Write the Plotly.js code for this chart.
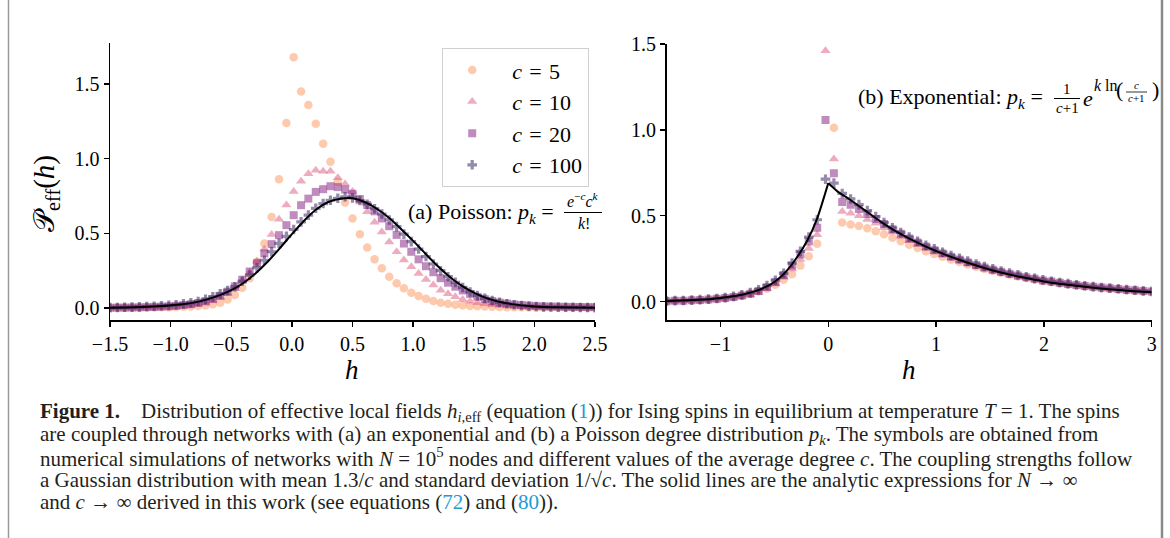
<!DOCTYPE html>
<html><head><meta charset="utf-8">
<script src="https://cdn.plot.ly/plotly-3.0.1.min.js"></script>
<style>html,body{margin:0;padding:0;background:#fff;}#chart{width:1170px;height:538px;}</style>
</head><body><div id="chart"></div>
<script>
// ---------- Panel (a): Poisson ----------
const hA = [-1.5,-1.439,-1.379,-1.318,-1.258,-1.197,-1.136,-1.076,-1.015,-0.955,
 -0.894,-0.833,-0.773,-0.712,-0.652,-0.591,-0.530,-0.470,-0.409,-0.348,
 -0.288,-0.227,-0.167,-0.106,-0.045,0.015,0.076,0.136,0.197,0.258,
 0.318,0.379,0.439,0.500,0.561,0.621,0.682,0.742,0.803,0.864,
 0.924,0.985,1.045,1.106,1.167,1.227,1.288,1.348,1.409,1.470,
 1.530,1.591,1.652,1.712,1.773,1.833,1.894,1.955,2.015,2.076,
 2.136,2.197,2.258,2.318,2.379,2.439,2.500];
const aC5 = [0.002,0.002,0.002,0.003,0.003,0.004,0.004,0.005,0.006,0.007,
 0.009,0.011,0.014,0.018,0.025,0.035,0.058,0.087,0.136,0.199,
 0.31,0.433,0.61,0.863,1.24,1.68,1.45,1.36,1.235,1.10,
 0.98,0.845,0.707,0.60,0.495,0.406,0.326,0.266,0.21,0.166,
 0.132,0.102,0.08,0.062,0.047,0.036,0.029,0.022,0.018,0.014,
 0.012,0.01,0.008,0.007,0.006,0.005,0.005,0.004,0.004,0.003,
 0.003,0.003,0.002,0.002,0.002,0.002,0.002];
const aC10 = [0.002,0.002,0.003,0.003,0.004,0.005,0.006,0.007,0.009,0.012,
 0.016,0.02,0.028,0.038,0.052,0.07,0.095,0.13,0.18,0.24,
 0.314,0.393,0.493,0.595,0.69,0.78,0.85,0.90,0.923,0.916,
 0.916,0.872,0.83,0.78,0.71,0.645,0.575,0.51,0.443,0.377,
 0.321,0.276,0.232,0.192,0.154,0.12,0.095,0.075,0.058,0.045,
 0.035,0.028,0.022,0.018,0.015,0.012,0.01,0.009,0.008,0.007,
 0.006,0.005,0.005,0.004,0.004,0.004,0.003];
const aC20 = [0.002,0.003,0.003,0.004,0.005,0.006,0.008,0.01,0.012,0.015,
 0.02,0.026,0.034,0.045,0.06,0.082,0.11,0.145,0.19,0.245,
 0.30,0.366,0.428,0.488,0.555,0.622,0.689,0.733,0.778,0.796,
 0.816,0.81,0.794,0.765,0.73,0.69,0.648,0.60,0.548,0.49,
 0.432,0.377,0.326,0.28,0.24,0.2,0.17,0.143,0.118,0.095,
 0.075,0.06,0.047,0.037,0.03,0.024,0.02,0.016,0.013,0.011,
 0.01,0.009,0.008,0.007,0.007,0.006,0.006];
const aC100 = [0.003,0.004,0.005,0.006,0.008,0.01,0.012,0.015,0.018,0.022,
 0.028,0.035,0.044,0.058,0.075,0.095,0.118,0.143,0.18,0.22,
 0.27,0.32,0.377,0.433,0.48,0.526,0.577,0.622,0.668,0.70,
 0.722,0.735,0.745,0.738,0.72,0.695,0.665,0.63,0.59,0.545,
 0.495,0.445,0.395,0.345,0.295,0.25,0.21,0.172,0.138,0.108,
 0.084,0.065,0.05,0.038,0.029,0.022,0.017,0.013,0.01,0.008,
 0.007,0.006,0.005,0.005,0.004,0.004,0.003];
const hLineA = [-1.5,-1.3,-1.1,-0.9,-0.8,-0.7,-0.6,-0.5,-0.4,-0.3,-0.2,-0.1,0,0.1,0.2,0.3,0.4,0.5,0.6,0.7,0.8,0.9,1.0,1.1,1.2,1.3,1.4,1.5,1.6,1.7,1.8,2.0,2.2,2.5];
const lineA = [0.002,0.005,0.012,0.026,0.038,0.058,0.085,0.12,0.168,0.232,0.31,0.40,0.495,0.585,0.66,0.71,0.732,0.735,0.71,0.665,0.605,0.53,0.45,0.365,0.283,0.21,0.15,0.103,0.068,0.044,0.028,0.011,0.005,0.002];

// ---------- Panel (b): Exponential ----------
const hB = [-1.5,-1.422,-1.345,-1.267,-1.190,-1.112,-1.034,-0.957,-0.879,-0.802,
 -0.724,-0.647,-0.569,-0.491,-0.414,-0.336,-0.259,-0.181,-0.103,-0.026,
 0.052,0.129,0.207,0.284,0.362,0.440,0.517,0.595,0.672,0.750,
 0.828,0.905,0.983,1.060,1.138,1.216,1.293,1.371,1.448,1.526,
 1.603,1.681,1.759,1.836,1.914,1.991,2.069,2.147,2.224,2.302,
 2.379,2.457,2.534,2.612,2.690,2.767,2.845,2.922,3.0];
const bC5 = [0.004,0.005,0.006,0.008,0.01,0.013,0.017,0.022,0.028,0.036,
 0.047,0.06,0.075,0.099,0.128,0.16,0.21,0.264,0.337,2.6,
 1.013,0.461,0.45,0.44,0.428,0.41,0.392,0.372,0.352,0.332,
 0.312,0.294,0.277,0.261,0.246,0.231,0.217,0.204,0.191,0.179,
 0.168,0.157,0.147,0.138,0.129,0.121,0.114,0.107,0.1,0.094,
 0.089,0.084,0.079,0.075,0.071,0.067,0.063,0.06,0.057];
const bC10 = [0.003,0.004,0.005,0.007,0.009,0.011,0.014,0.018,0.024,0.031,
 0.041,0.055,0.075,0.103,0.142,0.19,0.245,0.31,0.39,1.46,
 0.83,0.525,0.515,0.50,0.478,0.456,0.43,0.405,0.38,0.355,
 0.333,0.312,0.292,0.274,0.256,0.239,0.223,0.208,0.194,0.182,
 0.17,0.159,0.148,0.139,0.13,0.122,0.115,0.108,0.102,0.096,
 0.09,0.085,0.081,0.077,0.072,0.068,0.065,0.061,0.058];
const bC20 = [0.003,0.005,0.006,0.008,0.01,0.013,0.017,0.021,0.028,0.036,
 0.047,0.063,0.085,0.115,0.155,0.21,0.275,0.35,0.43,1.058,
 0.748,0.58,0.565,0.54,0.51,0.482,0.452,0.422,0.395,0.368,
 0.344,0.321,0.3,0.281,0.262,0.245,0.229,0.213,0.199,0.186,
 0.174,0.162,0.152,0.142,0.133,0.124,0.117,0.11,0.103,0.097,
 0.092,0.087,0.082,0.078,0.074,0.07,0.066,0.062,0.059];
const bC100 = [0.004,0.006,0.007,0.009,0.012,0.015,0.019,0.024,0.031,0.04,
 0.053,0.07,0.094,0.125,0.165,0.225,0.293,0.376,0.477,0.713,
 0.69,0.63,0.598,0.565,0.53,0.496,0.461,0.43,0.403,0.376,
 0.352,0.328,0.308,0.288,0.269,0.252,0.236,0.219,0.205,0.191,
 0.178,0.167,0.156,0.145,0.136,0.127,0.119,0.112,0.105,0.099,
 0.093,0.088,0.083,0.079,0.075,0.071,0.067,0.063,0.06];
const hLineB = [-1.5,-1.3,-1.1,-1.0,-0.9,-0.8,-0.7,-0.6,-0.5,-0.4,-0.3,-0.2,-0.1,0,0.1,0.2,0.3,0.4,0.5,0.6,0.7,0.8,0.9,1.0,1.1,1.2,1.4,1.6,1.8,2.0,2.2,2.4,2.6,2.8,3.0];
const lineB = [0.004,0.008,0.015,0.021,0.03,0.041,0.057,0.08,0.115,0.17,0.25,0.35,0.49,0.69,0.635,0.595,0.55,0.505,0.46,0.42,0.385,0.352,0.322,0.295,0.27,0.247,0.205,0.17,0.142,0.118,0.1,0.085,0.073,0.063,0.055];

const seriesNames = ['\u2002<i>c</i>\u2004=\u20045','\u2002<i>c</i>\u2004=\u200410','\u2002<i>c</i>\u2004=\u200420','\u2002<i>c</i>\u2004=\u2004100'];
const xTicksA = [-1.5,-1.0,-0.5,0.0,0.5,1.0,1.5,2.0,2.5];
const xTicksB = [-1,0,1,2,3];
const yTicks = [0.0,0.5,1.0,1.5];

// ---------- styles ----------
const styles = [
  {symbol:'circle', color:'rgba(253,166,120,0.6)', size:8.5},
  {symbol:'triangle-up', color:'rgba(222,90,128,0.5)', size:9},
  {symbol:'square', color:'rgba(140,45,135,0.55)', size:8},
  {symbol:'cross', color:'rgba(60,42,100,0.55)', size:8}
];
const W = 1170, H = 538;
const px = x => x / W, py = y => 1 - y / H;
const FONT = 'Liberation Serif, Times New Roman, serif';

const dataA = [aC5, aC10, aC20, aC100];
const dataB = [bC5, bC10, bC20, bC100];
const traces = [];
dataA.forEach((ys, i) => traces.push({
  x: hA, y: ys, type: 'scatter', mode: 'markers', name: seriesNames[i],
  marker: {symbol: styles[i].symbol, color: styles[i].color, size: styles[i].size, line: {width: 0}},
  xaxis: 'x', yaxis: 'y', showlegend: true, legendgroup: 'g' + i
}));
traces.push({x: hLineA, y: lineA, type: 'scatter', mode: 'lines', line: {color: '#000', width: 2, shape: 'spline', smoothing: 0.6}, xaxis: 'x', yaxis: 'y', showlegend: false, hoverinfo: 'skip'});
dataB.forEach((ys, i) => traces.push({
  x: hB, y: ys, type: 'scatter', mode: 'markers', name: seriesNames[i],
  marker: {symbol: styles[i].symbol, color: styles[i].color, size: styles[i].size, line: {width: 0}},
  xaxis: 'x2', yaxis: 'y2', showlegend: false, legendgroup: 'g' + i
}));
const zeroIdx = hLineB.indexOf(0);
traces.push({x: hLineB.slice(0, zeroIdx + 1), y: lineB.slice(0, zeroIdx + 1), type: 'scatter', mode: 'lines', line: {color: '#000', width: 2, shape: 'spline', smoothing: 0.5}, xaxis: 'x2', yaxis: 'y2', showlegend: false, hoverinfo: 'skip'});
traces.push({x: hLineB.slice(zeroIdx), y: lineB.slice(zeroIdx), type: 'scatter', mode: 'lines', line: {color: '#000', width: 2, shape: 'spline', smoothing: 0.5}, xaxis: 'x2', yaxis: 'y2', showlegend: false, hoverinfo: 'skip'});

const axisCommon = {
  showgrid: false, zeroline: false, showline: true, linecolor: '#000', linewidth: 1.5,
  ticks: 'outside', ticklen: 5, tickwidth: 1.3, tickcolor: '#000',
  tickfont: {family: FONT, size: 20, color: '#000'}, mirror: false
};

const blue = '#1e9ad6';
const capFont = {family: FONT, size: 21, color: '#231f20'};
const caption = [
  '<b>Figure 1.</b>\u2003Distribution of effective local fields <i>h</i><sub><i>i</i>,eff</sub> (equation (<span style="color:' + blue + '">1</span>)) for Ising spins in equilibrium at temperature <i>T</i> = 1. The spins',
  'are coupled through networks with (a) an exponential and (b) a Poisson degree distribution <i>p<sub>k</sub></i>. The symbols are obtained from',
  'numerical simulations of networks with <i>N</i> = 10<sup>5</sup> nodes and different values of the average degree <i>c</i>. The coupling strengths follow',
  'a Gaussian distribution with mean 1.3/<i>c</i> and standard deviation 1/√<i>c</i>. The solid lines are the analytic expressions for <i>N</i> → ∞',
  'and <i>c</i> → ∞ derived in this work (see equations (<span style="color:' + blue + '">72</span>) and (<span style="color:' + blue + '">80</span>)).'
];
const capY = [412, 435, 457, 480, 502];

const ann = [];
const addText = (text, x, y, size, xanchor, extra) => ann.push(Object.assign({
  text: text, x: px(x), y: py(y), xref: 'paper', yref: 'paper', showarrow: false,
  xanchor: xanchor || 'center', yanchor: 'middle', font: {family: FONT, size: size, color: '#000'}
}, extra || {}));

caption.forEach((t, i) => addText(t, 38, capY[i], 21, 'left', {font: capFont}));
// axis titles
addText('<i>h</i>', 352, 370, 27);
addText('<i>h</i>', 909, 370, 27);
addText('𝒫<sub>eff</sub>(<i>h</i>)', 46, 194, 29, 'center', {textangle: -90});
// (a) formula
addText('(a) Poisson: <i>p<sub>k</sub></i> = ', 561, 213, 22, 'right');
addText('<i>e</i><sup>−<i>c</i></sup><i>c</i><sup><i>k</i></sup>', 583, 200, 16);
addText('<i>k</i>!', 584, 223, 16);
// (b) formula
addText('(b) Exponential: <i>p<sub>k</sub></i> = ', 1050, 98, 22, 'right');
addText('1', 1067, 89, 15);
addText('<i>c</i>+1', 1067, 108, 15);
addText('<i>e</i>', 1081, 98, 22, 'left');
addText('<i>k</i> ln', 1092, 86, 16, 'left');
addText('(', 1119, 90, 22);
addText('<i>c</i>', 1136, 85, 11);
addText('<i>c</i>+1', 1136, 98, 11);
addText(')', 1155, 90, 22);

const shapes = [
  {type: 'line', xref: 'paper', yref: 'paper', x0: px(564), x1: px(602), y0: py(212.5), y1: py(212.5), line: {color: '#000', width: 1}},
  {type: 'line', xref: 'paper', yref: 'paper', x0: px(1054), x1: px(1080), y0: py(98.5), y1: py(98.5), line: {color: '#000', width: 1}},
  {type: 'line', xref: 'paper', yref: 'paper', x0: px(1126), x1: px(1147), y0: py(92), y1: py(92), line: {color: '#000', width: 0.8}},
  {type: 'line', xref: 'paper', yref: 'paper', x0: px(8.5), x1: px(8.5), y0: 0, y1: 1, line: {color: '#9a9a9a', width: 1.5}},
  {type: 'line', xref: 'paper', yref: 'paper', x0: px(1162), x1: px(1162), y0: 0, y1: 1, line: {color: '#8a8a8a', width: 2.5}}
];

const layout = {
  width: W, height: H, margin: {l: 0, r: 0, t: 0, b: 0},
  paper_bgcolor: '#fff', plot_bgcolor: '#fff',
  font: {family: FONT, color: '#000'},
  xaxis: Object.assign({}, axisCommon, {domain: [px(110), px(595)], range: [-1.5, 2.5], tickvals: xTicksA, tickformat: '.1f', anchor: 'y'}),
  yaxis: Object.assign({}, axisCommon, {domain: [py(320), py(43)], range: [-0.08, 1.775], tickvals: yTicks, tickformat: '.1f', anchor: 'x'}),
  xaxis2: Object.assign({}, axisCommon, {domain: [px(666.6), px(1151.7)], range: [-1.5, 3], tickvals: xTicksB, tickformat: 'd', anchor: 'y2'}),
  yaxis2: Object.assign({}, axisCommon, {domain: [py(320), py(44)], range: [-0.1065, 1.5], tickvals: yTicks, tickformat: '.1f', anchor: 'x2'}),
  legend: {x: px(442), y: py(48), xanchor: 'left', yanchor: 'top', bgcolor: 'rgba(255,255,255,0.9)',
    bordercolor: '#d0d0d0', borderwidth: 1.2, font: {family: FONT, size: 22, color: '#000'},
    itemwidth: 48, tracegroupgap: 0},
  annotations: ann, shapes: shapes, showlegend: true
};
Plotly.newPlot('chart', traces, layout, {displayModeBar: false, staticPlot: true});
</script></body></html>
